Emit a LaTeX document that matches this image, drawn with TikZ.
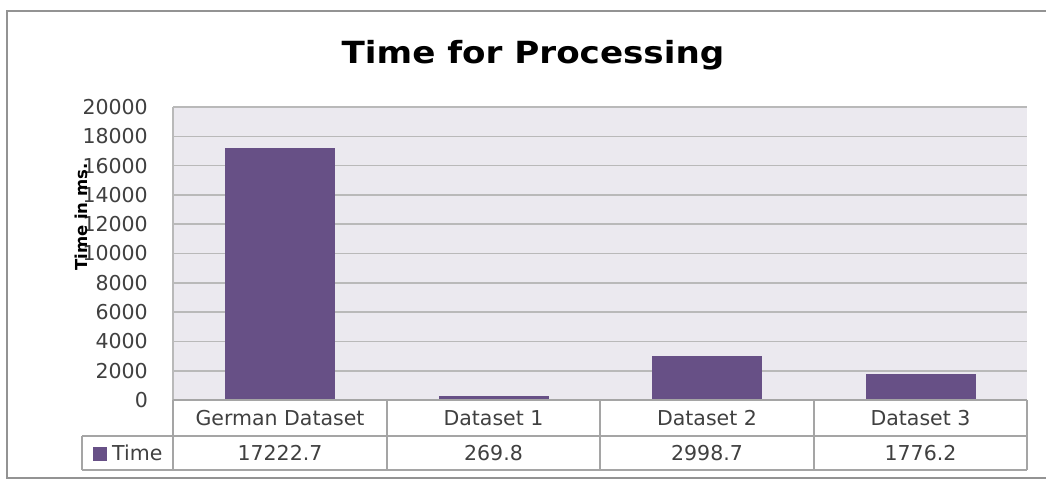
\documentclass[tikz,border=0pt]{standalone}
\usepackage{fontspec}
\setmainfont{DejaVu Sans}
\newfontfamily\titlefont[FakeStretch=1.12]{DejaVu Sans}
\usepackage{xcolor}
\usepackage{tikz}
\usetikzlibrary{positioning,calc}
\definecolor{barpurple}{RGB}{103,80,134}
\definecolor{plotbg}{RGB}{235,233,239}
\definecolor{gridgray}{RGB}{185,185,185}
\definecolor{tablegray}{RGB}{165,165,165}
\definecolor{labelgray}{RGB}{64,64,64}

\begin{document}
\begin{tikzpicture}[
    x=1pt, y=-1pt,
    bar/.style={fill=barpurple, draw=none},
    gridline/.style={draw=gridgray, line width=1.6pt},
    cell/.style={draw=tablegray, line width=1.3pt},
    ticklabel/.style={font=\fontsize{20.5}{24}\selectfont, text=labelgray, anchor=east, inner sep=0pt},
    celltext/.style={font=\fontsize{20.5}{24}\selectfont, text=labelgray, inner sep=0pt}
]
    \useasboundingbox (0,0) rectangle (1046,480);
    \fill[white] (0,0) rectangle (1046,480);

    % Outer chart frame (open on the right, cut by the page edge)
    \draw[draw=gray!85, line width=2pt] (1046,11) -- (7,11) -- (7,478) -- (1046,478);

    % Title
    \node[font=\titlefont\bfseries\fontsize{30.5}{34}\selectfont, text=black] (title) at (533,55) {Time for Processing};

    % Plot area and grid
    \fill[plotbg] (173,107) rectangle (1027,400);
    \foreach \k in {1,...,10} {
        \draw[gridline] (173,{400-\k*29.3}) -- (1027,{400-\k*29.3});
    }
    \draw[gridline] (173,107) -- (173,400);

    % Tick labels
    \foreach \lab [count=\k from 0] in {0,2000,4000,6000,8000,10000,12000,14000,16000,18000,20000} {
        \node[ticklabel] (tick\k) at (148,{400-\k*29.3}) {\lab};
    }

    % Axis title
    \node[font=\bfseries\fontsize{16.5}{19}\selectfont, text=black, rotate=90] (ytitle) at (81,217) {Time in ms.};

    % Bars (values in thousands of ms)
    \foreach \v/\c in {17.2227/280, 0.2698/493.5, 2.9987/707, 1.7762/920.5} {
        \fill[bar] (\c-55,400) rectangle (\c+55,{400-\v*14.65});
    }

    % Data table
    \draw[cell] (173,400) -- (1027,400);
    \draw[cell] (82,436) -- (1027,436);
    \draw[cell] (82,470) -- (1027,470);
    \draw[cell] (82,436) -- (82,470);
    \foreach \x in {173, 387, 600, 814, 1027} {
        \draw[cell] (\x,400) -- (\x,470);
    }

    % Category and value cells
    \node[celltext] (cat1) at (280,418) {German Dataset};
    \node[celltext] (cat2) at (493.5,418) {Dataset 1};
    \node[celltext] (cat3) at (707,418) {Dataset 2};
    \node[celltext] (cat4) at (920.5,418) {Dataset 3};

    \node[celltext] (val1) at (280,453) {17222.7};
    \node[celltext] (val2) at (493.5,453) {269.8};
    \node[celltext] (val3) at (707,453) {2998.7};
    \node[celltext] (val4) at (920.5,453) {1776.2};

    % Legend key
    \node[fill=barpurple, minimum size=14pt, inner sep=0pt] (key) at (99.5,453.5) {};
    \node[celltext, anchor=west] (keytext) at (112,453) {Time};

\end{tikzpicture}
\end{document}
